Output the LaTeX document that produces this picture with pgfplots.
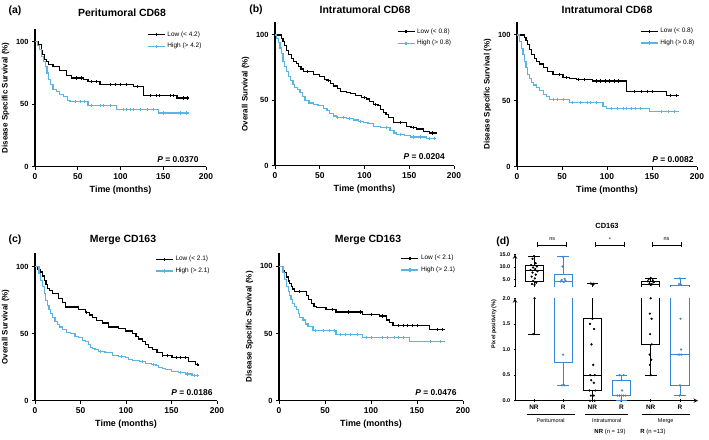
\documentclass[border=0pt]{standalone}
\usepackage{fontspec}
\setmainfont{Liberation Sans}
\usepackage{pgfplots}
\pgfplotsset{compat=1.18}
\usepgfplotslibrary{statistics}

\definecolor{kmblue}{RGB}{90,180,228}
\definecolor{bxblue}{RGB}{55,135,215}
\newcommand{\fs}[1]{\fontsize{#1}{#1}\selectfont}

\pgfplotsset{
  km/.style={scale only axis, axis lines=left, axis line style={-, line width=1.1pt},
    xmin=0, xmax=200, ymin=0, ymax=110,
    xtick={0,50,100,150,200}, ytick={0,50,100},
    major tick length=3bp, tick style={black, line width=1pt}, tick align=outside,
    x tick label style={font=\fs{8.5}\bfseries},
    y tick label style={font=\fs{7.5}\bfseries},
    /pgf/number format/assume math mode=true,
    xlabel={Time (months)},
    xlabel style={font=\fs{9}\bfseries},
    ylabel style={font=\fs{8}\bfseries},
    clip=false,
    legend style={draw=none, fill=none, anchor=north west, font=\fs{6.5},
      inner sep=0pt, row sep=1.5pt, legend cell align=left},
  },
  lowline/.style={black, line width=1.2pt, const plot, no marks, forget plot},
  highline/.style={kmblue, line width=1.2pt, const plot, no marks, forget plot},
  lowcens/.style={black, only marks, mark=|, mark size=1.6bp, mark options={draw=black, line width=0.8pt}, forget plot},
  highcens/.style={kmblue, only marks, mark=|, mark size=1.6bp, mark options={draw=kmblue, line width=0.8pt}, forget plot},
  lowleg/.style={black, line width=1.2pt, mark=|, mark size=1.6bp, mark options={draw=black}},
  highleg/.style={kmblue, line width=1.2pt, mark=|, mark size=1.6bp, mark options={draw=kmblue}},
  bx/.style={scale only axis, xmin=0.35, xmax=6.62, width=183bp,
    axis line style={-, line width=1pt},
    tick style={black, line width=0.8pt}, major tick length=2.5bp, tick align=outside,
    y tick label style={font=\fs{5.5}\bfseries},
    x tick label style={font=\fs{6.5}\bfseries},
    /pgf/number format/assume math mode=true,
    boxplot/draw direction=y,
    boxplot/box extend=0.62, boxplot/whisker extend=0.4},
  blk/.style={black, line width=0.8pt},
  blu/.style={bxblue, line width=0.8pt},
  blkpt/.style={black, only marks, mark=*, mark size=0.9bp},
  blupt/.style={bxblue, only marks, mark=*, mark size=0.9bp},
}

\begin{document}
\begin{tikzpicture}[x=1bp, y=1bp]
\path[use as bounding box] (0,0) rectangle (709,-440);

% ---------------- (a) Peritumoral CD68 DSS
\begin{axis}[km, at={(35bp,-166.7bp)}, anchor=south west, width=171bp, height=137.5bp,
  ylabel={Disease Specific Survival (\%)}, legend style={at={(0.655,1.0)}}]
\addplot[lowline] coordinates {(0,100)(4,98)(8,93)(9,90)(11,86)(13,84)(15.6,82)(21,80)(29,77)(37,73)(43,71)(57,70)(62,68)(76,66)(115,64)(127,57)(166,55)(180,55)};
\addplot[highline] coordinates {(0,100)(3,97)(5,94)(8,88)(10,84)(12,80)(14,75)(16,70)(18,66)(21,62)(25,60)(29,58)(33,56)(38,53)(41,52)(62,49)(95.5,46)(144,43)(180,43)};
\addplot[lowcens] coordinates {(48.7,71)(54.6,71)(66,68)(72,68)(87.7,66)(93.6,66)(99.5,66)(107,66)(120,64)(134.5,57)(142,57)(146,57)(158,57)(162,57)(173.5,55)(178,55)};
\addplot[highcens] coordinates {(47,52)(53,52)(58,52)(66,49)(76,49)(80,49)(88,49)(103,46)(107,46)(111,46)(115,46)(123,46)(131,46)(138,46)(150,43)(170,43)(177,43)};
\addlegendimage{lowleg}\addlegendentry{Low (< 4.2)}
\addlegendimage{highleg}\addlegendentry{High (> 4.2)}
\end{axis}

% ---------------- (b) Intratumoral CD68 OS
\begin{axis}[km, at={(275bp,-165.7bp)}, anchor=south west, width=179bp, height=143.8bp,
  ylabel={Overall Survival (\%)}, legend style={at={(0.68,0.97)}}]
\addplot[lowline] coordinates {(0,100)(7.5,97)(9,95)(11,92)(13,88)(15,85)(18,82)(20.5,80)(24,78)(26,76)(29,74)(32,72)(43,70)(50,68)(55,66)(58,65)(62,63)(65,61)(70,59)(73,57)(80,56)(84,55)(90,54)(97,52)(102,51)(106,49)(110,47)(115,46)(118,43)(121,41)(124,39)(127,37)(132,33)(147,30)(152,29)(158,28)(166,26)(173,25)(180,24)};
\addplot[highline] coordinates {(0,100)(2,97)(4,94)(5.6,90)(7,86)(9,80)(11,76)(13,72)(15,68)(17,65)(20,62)(22,60)(25,58)(28,56)(31,53)(33.5,50)(38,48)(43,47)(48,46)(54,44)(58,42)(61,40)(65,38)(69,37)(80,36)(87.5,35)(93,34)(99,33)(104,32)(110,30)(118,29)(128.5,27)(133,25)(136,24)(145,23)(151,22)(169,21)(180,21)};
\addplot[lowcens] coordinates {(36,72)(60,65)(100,52)(112,47)(140,33)(155,29)(176,25)};
\addplot[highcens] coordinates {(70,37)(76,37)(83,36)(95,34)(125,29)(140,24)(155,22)(162,22)(172,21)(178,21)};
\addlegendimage{lowleg}\addlegendentry{Low (< 0.8)}
\addlegendimage{highleg}\addlegendentry{High (> 0.8)}
\end{axis}

% ---------------- top right: Intratumoral CD68 DSS
\begin{axis}[km, at={(517bp,-166.7bp)}, anchor=south west, width=180bp, height=144.9bp,
  ylabel={Disease Specific Survival (\%)}, legend style={at={(0.683,0.971)}}]
\addplot[lowline] coordinates {(0,100)(8.5,98)(10,96)(12,93)(14,89)(16,85)(19,82)(21.5,80)(25,78)(29,75)(34,72)(40,70)(51,68)(58,67)(66,66)(84,65)(121.5,57)(166,54)(180,54)};
\addplot[highline] coordinates {(0,100)(3,95)(5,90)(6.7,85)(8.5,80)(10,75)(12,70)(14,67)(16,64)(18,62)(22,60)(25,58)(29,55)(32.6,53)(36,51)(58.5,49)(95.5,46)(99,44)(147,42)(180,42)};
\addplot[lowcens] coordinates {(47,70)(55,68)(68,66)(75,66)(88,65)(93,65)(98,65)(103,65)(108,65)(113,65)(130,57)(138,57)(145,57)(150,57)(170,54)(177,54)};
\addplot[highcens] coordinates {(40,51)(45,51)(52,51)(62,49)(70,49)(78,49)(82,49)(88,49)(105,44)(112,44)(118,44)(122,44)(127,44)(132,44)(137,44)(160,42)(168,42)(175,42)};
\addlegendimage{lowleg}\addlegendentry{Low (< 0.8)}
\addlegendimage{highleg}\addlegendentry{High (> 0.8)}
\end{axis}

% ---------------- (c) Merge CD163 OS
\begin{axis}[km, at={(35bp,-400.7bp)}, anchor=south west, width=182bp, height=147.4bp,
  ylabel={Overall Survival (\%)}, legend style={at={(0.66,0.995)}}]
\addplot[lowline] coordinates {(0,100)(2.5,98)(6,96)(8,93)(10,90)(12,87)(13.5,84)(16,82)(19,80)(26,76)(30,73)(33.6,70)(48,68)(55.6,66)(60,64)(63,62)(68,60)(74,58)(81,55)(92,54)(99.5,52)(107,50)(111,48)(114,46)(118,44)(121,42)(125,40)(128.7,38)(134,36)(139.7,34)(150.6,32)(169,29)(176,27)(180,26)};
\addplot[highline] coordinates {(0,100)(4.4,95)(6,90)(8,85)(10,80)(11.7,75)(13.5,71)(15.4,68)(17,65)(19,62)(22,59)(24.5,57)(27,55)(30,53)(35,51)(39,50)(44,48)(48,47)(52,45)(55.6,44)(59,42)(61,40)(63,39)(66,38)(70,37)(77,36)(85,34)(92,33)(99.5,32)(103,31)(107,30)(115,29)(121,28)(128,27)(133,26)(136,25)(140,24)(143,23)(150,22)(158,21)(165,20)(172.6,19)(180,19)};
\addplot[lowcens] coordinates {(57,66)(140,34)(146,34)(155,32)(160,32)(165,32)(178,27)};
\addplot[highcens] coordinates {(72,37)(95,33)(118,29)(130,27)(160,21)(168,20)(175,19)(178,19)};
\addlegendimage{lowleg}\addlegendentry{Low (< 2.1)}
\addlegendimage{highleg}\addlegendentry{High (> 2.1)}
\end{axis}

% ---------------- Merge CD163 DSS
\begin{axis}[km, at={(279bp,-400.7bp)}, anchor=south west, width=184bp, height=148bp,
  ylabel={Disease Specific Survival (\%)}, legend style={at={(0.661,0.998)}}]
\addplot[lowline] coordinates {(0,100)(4.3,97)(6,95)(8,92)(10,89)(11.5,87)(13.4,85)(15,83)(17,81)(29.7,78)(32,75)(35,72)(38,70)(40.6,69)(51,68)(62,66)(91,64)(109,63)(116.7,60)(120,58)(124,56)(164,53)(180,53)};
\addplot[highline] coordinates {(0,100)(4.3,95)(6,90)(8,85)(10,81)(11.6,78)(13,75)(15,72)(17,70)(19,68)(21,65)(22.5,62)(26,60)(29,57)(31.5,55)(37,52)(62,49)(91,47)(142,44)(180,44)};
\addplot[lowcens] coordinates {(22,81)(58,68)(75,66)(88,66)(100,64)(112,63)(130,56)(135,56)(140,56)(145,56)(150,56)(172,53)(178,53)};
\addplot[highcens] coordinates {(40,52)(48,52)(55,52)(60,52)(67,49)(72,49)(78,49)(85,49)(95,47)(100,47)(112,47)(118,47)(125,47)(130,47)(135,47)(165,44)(175,44)};
\addlegendimage{lowleg}\addlegendentry{Low (< 2.1)}
\addlegendimage{highleg}\addlegendentry{High (> 2.1)}
\end{axis}

% ---------------- (d) CD163 box plots, lower segment
\begin{axis}[bx, at={(515bp,-400.7bp)}, anchor=south west, height=102.4bp,
  ymin=0, ymax=2, axis lines=left,
  xtick={1,2,3,4,5,6}, xticklabels={NR,R,NR,R,NR,R},
  ytick={0,0.5,1,1.5,2}, yticklabels={0.0,0.5,1.0,1.5,2.0}]
\addplot[blk, boxplot prepared={draw position=1, lower whisker=1.3, lower quartile=4.2, median=8.6, upper quartile=10.5, upper whisker=14.3}] coordinates {};
\addplot[blu, boxplot prepared={draw position=2, lower whisker=0.3, lower quartile=0.75, median=4.3, upper quartile=6.9, upper whisker=14.0}] coordinates {};
\addplot[blk, boxplot prepared={draw position=3, lower whisker=0.0, lower quartile=0.2, median=0.5, upper quartile=1.6, upper whisker=3.5}] coordinates {};
\addplot[blu, boxplot prepared={draw position=4, lower whisker=0.0, lower quartile=0.1, median=0.1, upper quartile=0.4, upper whisker=0.5}] coordinates {};
\addplot[blk, boxplot prepared={draw position=5, lower whisker=0.5, lower quartile=1.1, median=3.3, upper quartile=4.4, upper whisker=5.7}] coordinates {};
\addplot[blu, boxplot prepared={draw position=6, lower whisker=0.1, lower quartile=0.3, median=0.9, upper quartile=2.6, upper whisker=5.5}] coordinates {};
\addplot[blkpt] coordinates {(1.02,2.0)(0.97,1.3)};
\addplot[blupt] coordinates {(2.0,0.9)(1.96,0.3)(2.04,0.3)};
\addplot[blkpt] coordinates {(3.0,1.6)(2.92,1.5)(3.06,1.4)(2.97,1.1)(3.03,0.7)(2.93,0.5)(3.08,0.5)(2.96,0.4)(3.05,0.35)(2.9,0.2)(3.1,0.2)(2.95,0.1)(3.05,0.1)(2.92,0.0)(3.08,0.0)};
\addplot[blupt] coordinates {(3.93,0.5)(4.07,0.5)(4.0,0.4)(4.02,0.2)(3.86,0.1)(3.93,0.1)(4.0,0.1)(4.07,0.1)(4.14,0.1)(3.97,0.0)};
\addplot[blkpt] coordinates {(5.0,2.0)(4.97,1.7)(5.03,1.6)(4.98,1.3)(5.04,1.1)(4.96,0.9)(5.02,0.8)(4.97,0.7)(5.0,0.5)};
\addplot[blupt] coordinates {(6.02,1.6)(6.04,1.0)(5.94,0.9)(6.0,0.9)(6.06,0.9)(6.0,0.3)(5.98,0.1)};
\end{axis}

% ---------------- (d) upper segment
\begin{axis}[bx, at={(515bp,-286.3bp)}, anchor=south west, height=32bp,
  ymin=2.4, ymax=15, axis y line=left, axis x line=none, xtick=\empty,
  ytick={5,10,15}, yticklabels={5.0,10.0,15.0},
  extra y ticks={2.4}, extra y tick labels={}]
\addplot[blk, boxplot prepared={draw position=1, lower whisker=1.3, lower quartile=4.2, median=8.6, upper quartile=10.5, upper whisker=14.3}] coordinates {};
\addplot[blu, boxplot prepared={draw position=2, lower whisker=0.3, lower quartile=0.75, median=4.3, upper quartile=6.9, upper whisker=14.0}] coordinates {};
\addplot[blk, boxplot prepared={draw position=3, lower whisker=0.0, lower quartile=0.2, median=0.5, upper quartile=1.6, upper whisker=3.5}] coordinates {};
\addplot[blu, boxplot prepared={draw position=4, lower whisker=0.0, lower quartile=0.1, median=0.1, upper quartile=0.4, upper whisker=0.5}] coordinates {};
\addplot[blk, boxplot prepared={draw position=5, lower whisker=0.5, lower quartile=1.1, median=3.3, upper quartile=4.4, upper whisker=5.7}] coordinates {};
\addplot[blu, boxplot prepared={draw position=6, lower whisker=0.1, lower quartile=0.3, median=0.9, upper quartile=2.6, upper whisker=5.5}] coordinates {};
\addplot[blkpt] coordinates {(1.0,14.3)(0.95,13.2)(1.06,11.5)(0.9,10.8)(1.1,10.2)(0.97,9.8)(1.04,9.2)(0.88,8.8)(1.12,8.3)(0.95,7.8)(1.06,7.0)(0.92,6.2)(1.03,5.5)(0.97,4.5)(1.08,3.8)(0.93,3.3)(1.02,3.0)};
\addplot[blupt] coordinates {(2.0,14.0)(1.98,10.2)(2.05,5.3)(1.95,4.9)(2.08,4.6)(1.92,4.3)(2.02,4.1)};
\addplot[blkpt] coordinates {(2.95,3.5)(3.05,3.4)(3.0,3.3)(3.02,3.0)};
\addplot[blkpt] coordinates {(5.0,5.7)(4.93,5.3)(5.07,4.8)(4.9,4.4)(5.1,4.0)(4.96,3.6)(5.04,3.2)(5.0,2.9)};
\addplot[blupt] coordinates {(6.0,5.5)(5.97,3.3)(6.04,3.0)};
\end{axis}

% ---------------- titles and annotations
\node[font=\fs{10.5}\bfseries] at (15,-11) {(a)};
\node[font=\fs{10.5}\bfseries] at (122,-13) {Peritumoral CD68};
\node[font=\fs{10.5}\bfseries] at (256,-10) {(b)};
\node[font=\fs{10.5}\bfseries] at (365,-10) {Intratumoral CD68};
\node[font=\fs{10.5}\bfseries] at (607,-10) {Intratumoral CD68};
\node[font=\fs{10.5}\bfseries] at (15,-240) {(c)};
\node[font=\fs{10.5}\bfseries] at (123,-240) {Merge CD163};
\node[font=\fs{10.5}\bfseries] at (368,-240) {Merge CD163};
\node[font=\fs{7.5}\bfseries] at (607,-226) {CD163};
\node[font=\fs{10.5}\bfseries] at (503,-242) {(d)};

\node[font=\fs{8.5}\bfseries, anchor=east] at (202,-160) {\textit{P} = 0.0370};
\node[font=\fs{8.5}\bfseries, anchor=east] at (448.3,-156.7) {\textit{P} = 0.0204};
\node[font=\fs{8.5}\bfseries, anchor=east] at (697,-159.3) {\textit{P} = 0.0082};
\node[font=\fs{8.5}\bfseries, anchor=east] at (216,-392.7) {\textit{P} = 0.0186};
\node[font=\fs{8.5}\bfseries, anchor=east] at (460,-392.7) {\textit{P} = 0.0476};

% (d) annotations
\node[font=\fs{5.5}\bfseries, rotate=90] at (494,-324) {Pixel positivity (\%)};
\draw[line width=0.6pt] (526.7,-414) -- (575,-414);
\draw[line width=0.6pt] (585,-414) -- (628,-414);
\draw[line width=0.6pt] (641.7,-414) -- (690,-414);
\node[font=\fs{5.5}] at (550.7,-421) {Peritumoral};
\node[font=\fs{5.5}] at (606.7,-421) {Intratumoral};
\node[font=\fs{5.5}] at (665.7,-421) {Merge};
\node[font=\fs{6}] at (610,-432) {\textbf{NR} (n = 19)};
\node[font=\fs{6}] at (653,-432) {\textbf{R} (n =13)};
\foreach \a/\b/\t in {537.7/566.7/ns, 595.7/624.3/*, 652/681/ns}{
  \draw[line width=0.7pt] (\a,-245) -- (\b,-245);
  \draw[line width=0.7pt] (\a,-242.5) -- (\a,-247.5);
  \draw[line width=0.7pt] (\b,-242.5) -- (\b,-247.5);
  \node[font=\fs{5.5}] at ({(\a+\b)/2},-239.5) {\t};
}
\end{tikzpicture}
\end{document}
